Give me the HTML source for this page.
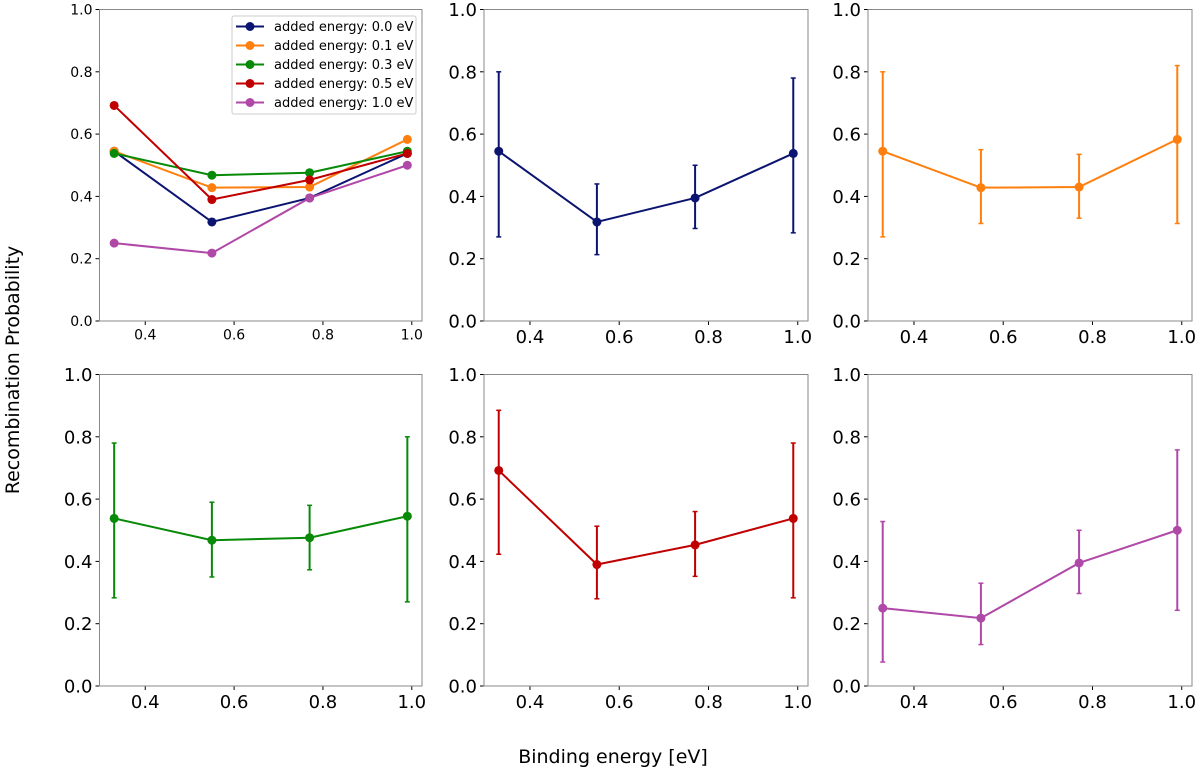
<!DOCTYPE html>
<html><head><meta charset="utf-8"><style>
body{margin:0;background:#fff;}
svg{display:block;font-family:"DejaVu Sans","Liberation Sans",sans-serif;}
</style></head><body>
<svg id="c" width="1200" height="771"></svg>
<script>
const xs=[0.33,0.55,0.77,0.99];
const seriesNames=["added energy: 0.0 eV","added energy: 0.1 eV","added energy: 0.3 eV","added energy: 0.5 eV","added energy: 1.0 eV"];
const colors=["#0b1470","#ff7f0e","#078a07","#c00000","#b048a8"];
const vals0=[0.545,0.318,0.395,0.538];
const vals1=[0.545,0.428,0.430,0.583];
const vals2=[0.538,0.468,0.476,0.545];
const vals3=[0.692,0.390,0.453,0.538];
const vals4=[0.250,0.218,0.395,0.500];
const hi0=[0.80,0.44,0.50,0.78];
const hi1=[0.80,0.55,0.535,0.82];
const hi2=[0.78,0.59,0.58,0.80];
const hi3=[0.885,0.513,0.56,0.78];
const hi4=[0.528,0.33,0.50,0.758];
const lo0=[0.27,0.213,0.297,0.283];
const lo1=[0.27,0.313,0.33,0.313];
const lo2=[0.283,0.35,0.373,0.27];
const lo3=[0.423,0.28,0.352,0.283];
const lo4=[0.077,0.133,0.297,0.243];
const xTicks=[0.4,0.6,0.8,1.0];
const yTicks=[0,0.2,0.4,0.6,0.8,1.0];
const vals=[vals0,vals1,vals2,vals3,vals4],his=[hi0,hi1,hi2,hi3,hi4],los=[lo0,lo1,lo2,lo3,lo4];
const svg=document.getElementById('c');const NS='http://www.w3.org/2000/svg';
function mk(t,a,p){const e=document.createElementNS(NS,t);for(const k in a)e.setAttribute(k,a[k]);(p||svg).appendChild(e);return e;}
const panels=[[99.5,422,9.5,321],[484,808,9.5,321],[868,1192,9.5,321],[99.5,422,374.5,686],[484,808,374.5,686],[868,1192,374.5,686]];
const XMIN=0.297,XMAX=1.023;
panels.forEach((p,i)=>{
 const [L,R,T,B]=p;const g=mk('g',{});
 
 
 const sx=v=>L+(v-XMIN)/(XMAX-XMIN)*(R-L);const sy=v=>B-v*(B-T);
 const fs=i==0?14:18;
 yTicks.forEach(t=>{mk('line',{x1:L-4,x2:L,y1:sy(t),y2:sy(t),stroke:'#000'},g);
  const tx=mk('text',{x:L-7,y:sy(t)+fs*0.36,'text-anchor':'end','font-size':fs},g);tx.textContent=t.toFixed(1);
  
  });
 xTicks.forEach(t=>{mk('line',{x1:sx(t),x2:sx(t),y1:B,y2:B+4,stroke:'#000'},g);
  const tx=mk('text',{x:sx(t),y:B+6+fs*0.9,'text-anchor':'middle','font-size':fs},g);tx.textContent=t.toFixed(1);
  
  });
 const list=i==0?[0,1,2,3,4]:[i-1];
 list.forEach(s=>{
  const c=colors[s];
  if(i>0){xs.forEach((x,k)=>{mk('line',{x1:sx(x),x2:sx(x),y1:sy(his[s][k]),y2:sy(los[s][k]),stroke:c,'stroke-width':2},g);
   [his[s][k],los[s][k]].forEach(v=>mk('line',{x1:sx(x)-2.5,x2:sx(x)+2.5,y1:sy(v),y2:sy(v),stroke:c,'stroke-width':1.5},g));});}
  const ln=mk('polyline',{points:xs.map((x,k)=>sx(x)+','+sy(vals[s][k])).join(' '),fill:'none',stroke:c,'stroke-width':2},g);
  
  
  xs.forEach((x,k)=>{const m=mk('circle',{cx:sx(x),cy:sy(vals[s][k]),r:4.5,fill:c},g);
   
   });
 });
 mk('rect',{x:L,y:T,width:R-L,height:B-T,fill:'none',stroke:'#888','stroke-width':1},g);
 if(i==0){
  const lg=mk('g',{},g);
  
  
  mk('rect',{x:232,y:16,width:184,height:98,fill:'#fff',stroke:'#ccc',rx:2},lg);
  seriesNames.forEach((n,s)=>{const y=26.5+s*19;
   mk('line',{x1:236,x2:264,y1:y,y2:y,stroke:colors[s],'stroke-width':2},lg);
   mk('circle',{cx:250,cy:y,r:4.5,fill:colors[s]},lg);
   const t=mk('text',{x:274,y:y+4.5,'font-size':13},lg);t.textContent=n;
   
   });
 }
});
const yl=mk('text',{x:0,y:0,'font-size':19,'text-anchor':'middle',transform:'translate(19,370) rotate(-90)'});yl.textContent='Recombination Probability';


const xl=mk('text',{x:613,y:763,'font-size':19,'text-anchor':'middle'});xl.textContent='Binding energy [eV]';


</script>
</body></html>
